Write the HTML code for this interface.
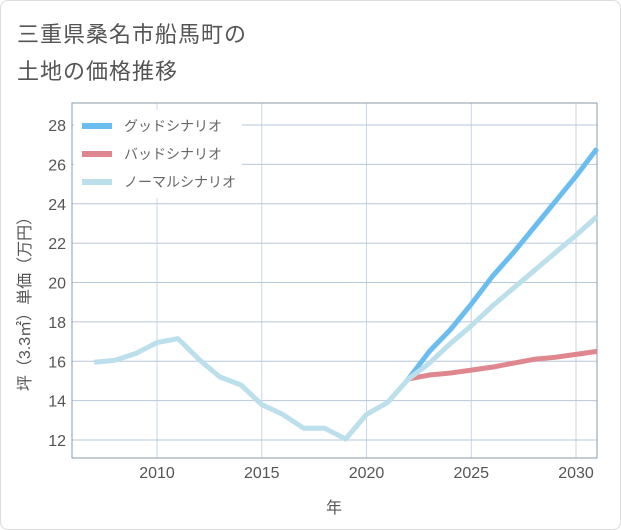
<!DOCTYPE html>
<html><head><meta charset="utf-8"><style>
body{margin:0;background:#fff;}
#wrap{position:relative;width:619px;height:528px;border:1px solid #ddd;border-radius:8px;overflow:hidden;font-family:"Liberation Sans","Noto Sans CJK JP",sans-serif;}
.title{position:absolute;left:16px;font-size:22px;color:#555;letter-spacing:1px;}
</style></head><body>
<div id="wrap">
<div class="title" style="top:16px">三重県桑名市船馬町の</div>
<div class="title" style="top:53px">土地の価格推移</div>
<svg id="chart" width="621" height="530" style="position:absolute;left:-1px;top:-1px"></svg>
</div>
<script>
const histYears=[2007,2008,2009,2010,2011,2012,2013,2014,2015,2016,2017,2018,2019,2020,2021,2022];
const histVals=[15.95,16.05,16.4,16.95,17.15,16.1,15.2,14.8,13.8,13.3,12.6,12.6,12.05,13.3,13.9,15.1];
const futYears=[2022,2023,2024,2025,2026,2027,2028,2029,2030,2031];
const goodVals=[15.1,16.5,17.6,18.9,20.3,21.5,22.8,24.1,25.4,26.8];
const badVals=[15.1,15.3,15.4,15.55,15.7,15.9,16.1,16.2,16.35,16.5];
const normVals=[15.1,15.9,16.9,17.8,18.8,19.7,20.6,21.5,22.4,23.35];
const xTicks=[2010,2015,2020,2025,2030];
const yTicks=[12,14,16,18,20,22,24,26,28];
const legendLabels=["グッドシナリオ","バッドシナリオ","ノーマルシナリオ"];
const colors=["#6bbdf0","#e0868f","#bcdfec"];
const NS="http://www.w3.org/2000/svg";
const svg=document.getElementById('chart');
const L=72,R=597,T=103,B=458;
const x=v=>157+(v-2010)*(576-157)/20;
const y=v=>440-(v-12)*(440-125)/16;
function mk(tag,attrs){const e=document.createElementNS(NS,tag);for(const k in attrs)e.setAttribute(k,attrs[k]);svg.appendChild(e);return e;}
xTicks.forEach(yr=>{const l=mk('line',{x1:x(yr),x2:x(yr),y1:T,y2:B,stroke:'#c8d6e4','stroke-width':1});

});
yTicks.forEach(v=>{const l=mk('line',{x1:L,x2:R,y1:y(v),y2:y(v),stroke:'#b7c8d8','stroke-width':1});

});
const fr=mk('rect',{x:L,y:T,width:R-L,height:B-T,fill:'none',stroke:'#8a9aa8','stroke-width':1});


xTicks.forEach(t=>{const e=mk('text',{x:x(t),y:478,'text-anchor':'middle','font-size':16,fill:'#555'});e.textContent=t;

});
yTicks.forEach(t=>{const e=mk('text',{x:66,y:y(t)+6,'text-anchor':'end','font-size':16,fill:'#555'});e.textContent=t;

});
const xt=mk('text',{x:334,y:513,'text-anchor':'middle','font-size':16,fill:'#555'});xt.textContent='年';


const yt=mk('text',{x:0,y:0,'text-anchor':'middle','font-size':16,fill:'#555',transform:'translate(30,300) rotate(-90)'});yt.textContent='坪（3.3㎡）単価（万円）';


function line(xs,vs,c,name){const p=mk('polyline',{points:xs.map((a,i)=>x(a)+','+y(vs[i])).join(' '),fill:'none',stroke:c,'stroke-width':5,'stroke-linejoin':'round'});

}
line(futYears,badVals,colors[1],'bad-scenario-line');
line(futYears,goodVals,colors[0],'good-scenario-line');
line(futYears,normVals,colors[2],'normal-scenario-line');
line(histYears,histVals,colors[2],'historical-line');
const lb=mk('rect',{x:74,y:110,width:168,height:88,fill:'#fff'});


legendLabels.forEach((s,i)=>{const yy=126+i*28;
const l=mk('line',{x1:82,x2:112,y1:yy,y2:yy,stroke:colors[i],'stroke-width':6});


const t=mk('text',{x:124,y:yy+5,'font-size':14,fill:'#666'});t.textContent=s;

});
</script>
</body></html>
